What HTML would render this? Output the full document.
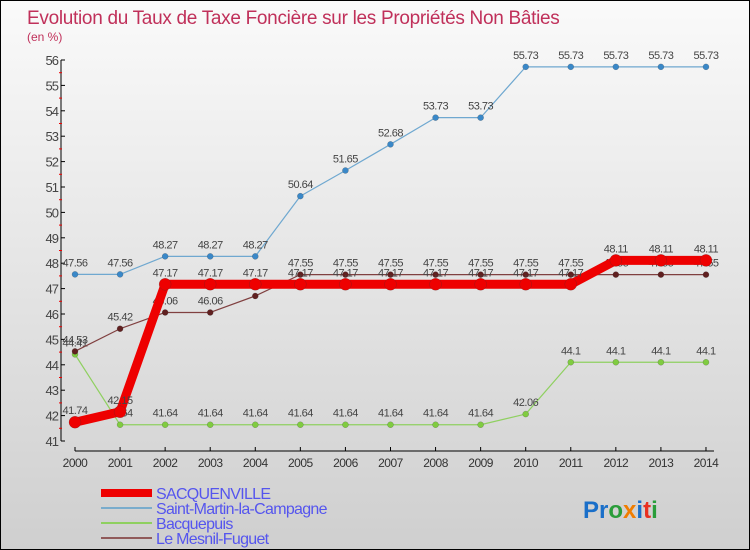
<!DOCTYPE html>
<html><head><meta charset="utf-8"><style>
body{margin:0}
#c{width:750px;height:550px;position:relative;box-sizing:border-box;border:1px solid #000;background:linear-gradient(#fafafa,#cfcfcf);font-family:"Liberation Sans",sans-serif;overflow:hidden}
</style></head><body>
<div id="c">
<svg id="s" width="748" height="548">
<text x="26" y="23" font-size="19" fill="#c0305a" letter-spacing="-0.3">Evolution du Taux de Taxe Foncière sur les Propriétés Non Bâties</text>
<text x="26" y="40" font-size="12" fill="#c0305a">(en %)</text>
<g id="g"></g>
<text x="582" y="517" font-size="24" font-weight="bold"><tspan fill="#1a6fc9">Pr</tspan><tspan fill="#2a9d3a">o</tspan><tspan fill="#f07d00">x</tspan><tspan fill="#1a6fc9">i</tspan><tspan fill="#e83020">t</tspan><tspan fill="#2a9d3a">i</tspan></text>
</svg></div>
<script>
const years=[2000,2001,2002,2003,2004,2005,2006,2007,2008,2009,2010,2011,2012,2013,2014];
const yTicks=[41,42,43,44,45,46,47,48,49,50,51,52,53,54,55,56];
const sacq=[41.74,42.15,47.17,47.17,47.17,47.17,47.17,47.17,47.17,47.17,47.17,47.17,48.11,48.11,48.11];
const stm=[47.56,47.56,48.27,48.27,48.27,50.64,51.65,52.68,53.73,53.73,55.73,55.73,55.73,55.73,55.73];
const bacq=[44.41,41.64,41.64,41.64,41.64,41.64,41.64,41.64,41.64,41.64,42.06,44.1,44.1,44.1,44.1];
const mesnil=[44.53,45.42,46.06,46.06,46.71,47.55,47.55,47.55,47.55,47.55,47.55,47.55,47.55,47.55,47.55];
const names=["SACQUENVILLE","Saint-Martin-la-Campagne","Bacquepuis","Le Mesnil-Fuguet"];
const NS="http://www.w3.org/2000/svg";
const g=document.getElementById('g');
const X=i=>74+i*45.07;
const Y=v=>440-(v-41)*25.4;
function el(t,a,p){const e=document.createElementNS(NS,t);for(const k in a)e.setAttribute(k,a[k]);(p||g).appendChild(e);return e;}
let e=el('line',{x1:60,y1:Y(56),x2:60,y2:Y(41),stroke:'#000'});


e=el('line',{x1:74,y1:450,x2:X(14)+8,y2:450,stroke:'#000'});


yTicks.forEach(v=>{
 el('line',{x1:60,y1:Y(v),x2:64,y2:Y(v),stroke:'#000'});
 if(v<56)el('line',{x1:58,y1:Y(v+0.5),x2:61,y2:Y(v+0.5),stroke:'#e00'});
 const t=el('text',{x:57,y:Y(v)+5,'text-anchor':'end','font-size':13,fill:'#444','letter-spacing':'-1'});
 t.textContent=v;
 
 
});
years.forEach((y,i)=>{
 el('line',{x1:X(i),y1:446,x2:X(i),y2:450,stroke:'#000'});
 const t=el('text',{x:X(i),y:466,'text-anchor':'middle','font-size':12,fill:'#333','letter-spacing':'-0.5'});
 t.textContent=y;
 
 
});
function series(d,col,w,r,dot,nm){
 const p=el('polyline',{points:d.map((v,i)=>X(i)+','+Y(v)).join(' '),fill:'none',stroke:col,'stroke-width':w,'stroke-linejoin':'round'});
 
 
 d.forEach((v,i)=>{
  const c=el('circle',{cx:X(i),cy:Y(v),r:r,fill:dot,stroke:'#3336','stroke-width':0.5});
  
  
  const t=el('text',{x:X(i),y:Y(v)-8,'text-anchor':'middle','font-size':11,fill:'#444','letter-spacing':'-0.5'});
  t.textContent=v;
  
  
 });
}
series(stm,'#6fa8d0',1.2,3,'#3a88c8','saint-martin');
series(bacq,'#8fd060',1.2,3,'#80cc40','bacquepuis');
series(mesnil,'#804040',1.2,3,'#602020','mesnil-fuguet');
series(sacq,'#ee0000',9,6,'#ee0000','sacquenville');
const lc=['#ee0000','#7aaccc','#8fd060','#905a5a'],lw=[8,2,2,2];
names.forEach((n,i)=>{
 const y=492+i*15;
 const l=el('line',{x1:100,y1:y,x2:151,y2:y,stroke:lc[i],'stroke-width':lw[i]});
 
 
 const t=el('text',{x:155,y:y+6,'font-size':16,fill:'#5555ee','letter-spacing':'-0.7'});
 t.textContent=n;
 
 
});
</script>
</body></html>
